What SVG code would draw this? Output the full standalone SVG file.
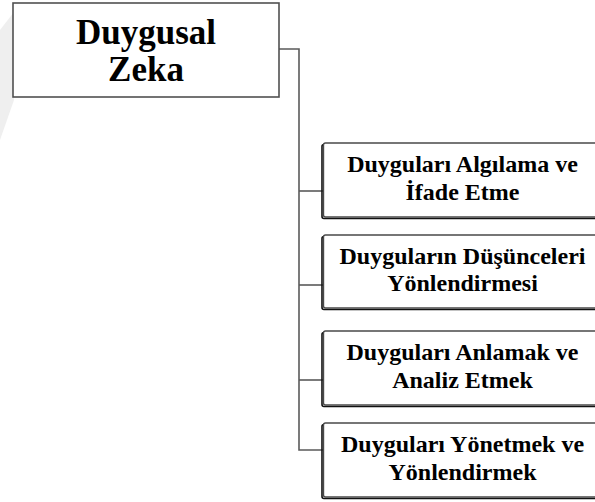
<svg xmlns="http://www.w3.org/2000/svg" width="595" height="502" viewBox="0 0 595 502">
  <style>
    .bg { fill: #ffffff; }
    .wm { fill: #efefef; }
    .main { fill: #ffffff; stroke: #505050; stroke-width: 1.6; }
    .shadow { fill: none; stroke: #111111; stroke-width: 1.6; }
    .box { fill: #ffffff; stroke: #4a4a4a; stroke-width: 1.4; }
    .conn { fill: none; stroke: #5a5a5a; stroke-width: 1.6; }
    .t1 { font-family: "Liberation Serif", "Times New Roman", serif; font-weight: bold; font-size: 35px; fill: #000000; text-anchor: middle; }
    .t2 { font-family: "Liberation Serif", "Times New Roman", serif; font-weight: bold; font-size: 24px; fill: #000000; text-anchor: middle; }
  </style>
  <rect class="bg" x="0" y="0" width="595" height="502"/>
  <polygon class="wm" points="0,30 14,12 14,100 0,140"/>

  <g id="connectors">
    <polyline class="conn" points="279,49 299,49 299,450 323,450"/>
    <line class="conn" x1="299" y1="191" x2="323" y2="191"/>
    <line class="conn" x1="299" y1="285" x2="323" y2="285"/>
    <line class="conn" x1="299" y1="380" x2="323" y2="380"/>
  </g>

  <g id="node-main">
    <rect class="main" x="13" y="3" width="266" height="94"/>
    <text class="t1" x="146" y="44">Duygusal</text>
    <text class="t1" x="146" y="81">Zeka</text>
  </g>

  <g id="node-1">
    <rect class="shadow" x="322" y="144.5" width="290" height="74" rx="2"/>
    <rect class="box" x="323.5" y="143" width="290" height="74" rx="2"/>
    <text class="t2" x="462.5" y="172">Duyguları Algılama ve</text>
    <text class="t2" x="462.5" y="200">İfade Etme</text>
  </g>

  <g id="node-2">
    <rect class="shadow" x="322" y="236.5" width="290" height="73" rx="2"/>
    <rect class="box" x="323.5" y="235" width="290" height="73" rx="2"/>
    <text class="t2" x="462.5" y="264">Duyguların Düşünceleri</text>
    <text class="t2" x="462.5" y="291">Yönlendirmesi</text>
  </g>

  <g id="node-3">
    <rect class="shadow" x="322" y="332.5" width="290" height="74" rx="2"/>
    <rect class="box" x="323.5" y="331" width="290" height="74" rx="2"/>
    <text class="t2" x="462.5" y="360">Duyguları Anlamak ve</text>
    <text class="t2" x="462.5" y="388">Analiz Etmek</text>
  </g>

  <g id="node-4">
    <rect class="shadow" x="322" y="424.5" width="290" height="74" rx="2"/>
    <rect class="box" x="323.5" y="423" width="290" height="74" rx="2"/>
    <text class="t2" x="462.5" y="452">Duyguları Yönetmek ve</text>
    <text class="t2" x="462.5" y="480">Yönlendirmek</text>
  </g>
</svg>
